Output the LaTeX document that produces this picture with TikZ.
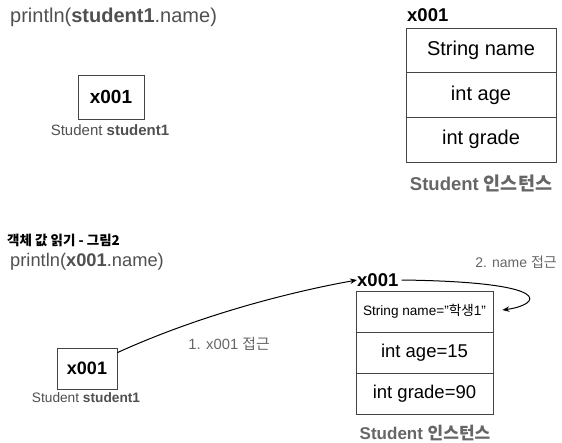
\documentclass[tikz,border=0pt]{standalone}
\usepackage{fontspec}
\setmainfont{Liberation Sans}
\newfontfamily\kr{Noto Sans CJK KR}
\usetikzlibrary{arrows.meta}
\definecolor{txtgray}{HTML}{505050}
\definecolor{lblgray}{HTML}{666666}
\definecolor{linegray}{HTML}{444444}
\newcommand{\fsz}[1]{\fontsize{#1}{#1}\selectfont}
\begin{document}
\begin{tikzpicture}[x=1pt,y=-1pt,
  txt/.style={inner sep=0pt},
  refbox/.style={draw=linegray, line width=0.8pt, inner sep=0pt, font=\fsz{19}\bfseries},
  cellA/.style={draw=linegray, line width=0.7pt, minimum width=150pt, minimum height=44.7pt, inner sep=0pt, font=\fsz{20}},
  cellB/.style={draw=linegray, line width=0.7pt, minimum width=137pt, minimum height=41pt, inner sep=0pt, font=\fsz{18.5}},
  arr/.style={line width=1pt, -{Stealth[length=7pt,width=5.5pt]}}
]
\useasboundingbox (0,0) rectangle (562,442);

% ---------- top ----------
\node[txt, anchor=west, text=txtgray, font=\fsz{20}] (p1) at (10,17) {println(\textbf{student1}.name)};
\node[refbox, minimum width=66pt, minimum height=44pt] (box1) at (111,97) {x001};
\node[txt, text=txtgray, font=\fsz{15}] (lab1) at (110,130) {Student \textbf{student1}};

\node[txt, anchor=west, font=\fsz{18.5}\bfseries] (ref1) at (407,15) {x001};
\node[cellA] (a1) at (481,50.35) {String name};
\node[cellA] (a2) at (481,95.05) {int age};
\node[cellA] (a3) at (481,139.75) {int grade};
\node[txt, text=lblgray, font=\fsz{18.5}\bfseries] (inst1) at (481,183) {Student {\kr 인스턴스}};

% ---------- bottom ----------
\node[txt, anchor=west, font=\fsz{13.5}\bfseries\kr] (title) at (7,240) {객체 값 읽기 - 그림2};
\node[txt, anchor=west, text=txtgray, font=\fsz{18.3}] (p2) at (10,262) {println(\textbf{x001}.name)};

\node[refbox, minimum width=60pt, minimum height=41pt, font=\fsz{18}\bfseries] (box2) at (87,368.5) {x001};
\node[txt, text=txtgray, font=\fsz{13.7}] (lab2) at (86,398) {Student \textbf{student1}};

\node[txt, anchor=west, font=\fsz{18.5}\bfseries] (ref2) at (357,280) {x001};
\node[cellB, font=\fsz{13.6}] (b1) at (424.5,311.5) {String name="{\kr 학생}1"};
\node[cellB] (b2) at (424.5,352.5) {int age=15};
\node[cellB] (b3) at (424.5,393.5) {int grade=90};
\node[txt, text=lblgray, font=\fsz{17}\bfseries] (inst2) at (425,433) {Student {\kr 인스턴스}};

\node[txt, text=lblgray, font=\fsz{14.8}] (acc1) at (229,344) {1. x001 {\kr 접근}};
\node[txt, anchor=east, text=lblgray, font=\fsz{14}] (acc2) at (557,262) {2. name {\kr 접근}};

\coordinate (start1) at ([yshift=-5pt]box2.north east);
\coordinate (tip2) at ([xshift=9pt,yshift=1.5pt]b1.east);

\draw[arr] (start1) .. controls (200,315) and (290,292) .. (ref2.west);
\draw[arr] ([xshift=3pt]ref2.east) .. controls (560,282) and (540,305) .. (tip2);
\end{tikzpicture}
\end{document}
